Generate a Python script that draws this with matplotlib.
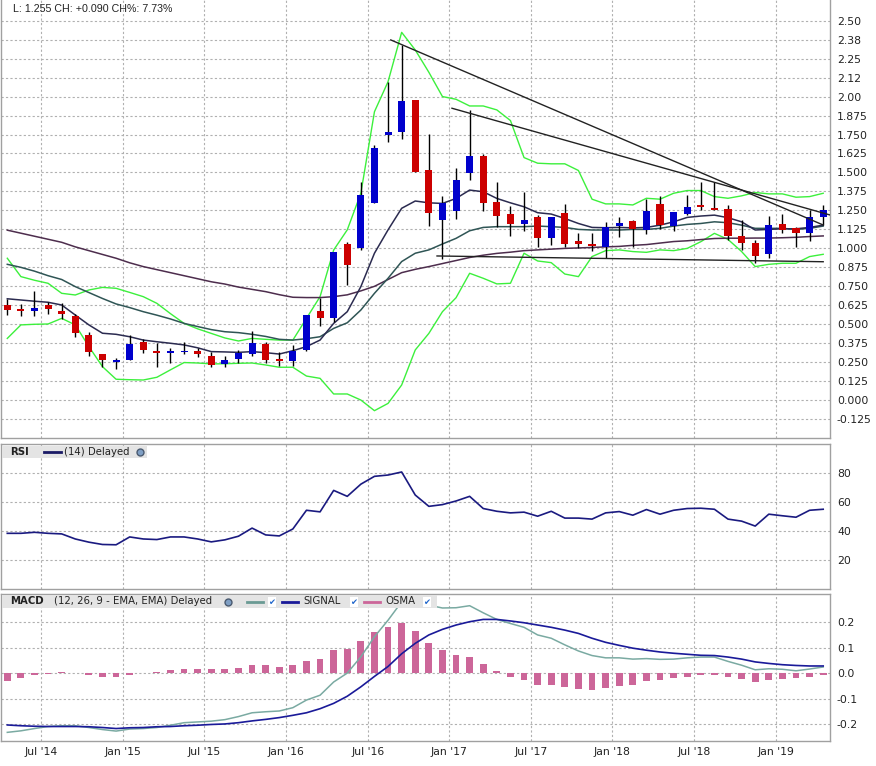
import matplotlib
matplotlib.use("Agg")
import matplotlib.pyplot as plt
from matplotlib.patches import Rectangle
from matplotlib.lines import Line2D

W, H = 876, 766

# monthly candles, Apr 2014 .. Apr 2019
opens = [0.625, 0.603, 0.590, 0.625, 0.586, 0.557, 0.432, 0.307, 0.250, 0.263,
         0.386, 0.327, 0.309, 0.316, 0.327, 0.294, 0.239, 0.274, 0.307, 0.373,
         0.274, 0.256, 0.331, 0.588, 0.544, 1.028, 1.000, 1.300, 1.745, 1.768,
         1.976, 1.515, 1.186, 1.248, 1.498, 1.607, 1.305, 1.226, 1.162, 1.206,
         1.070, 1.232, 1.048, 1.029, 1.011, 1.147, 1.180, 1.123, 1.292, 1.147,
         1.224, 1.287, 1.265, 1.259, 1.081, 1.037, 0.961, 1.162, 1.132, 1.103,
         1.206]
highs = [0.669, 0.636, 0.721, 0.645, 0.643, 0.568, 0.452, 0.307, 0.281, 0.432,
         0.401, 0.375, 0.346, 0.386, 0.342, 0.316, 0.292, 0.331, 0.456, 0.386,
         0.320, 0.364, 0.563, 0.675, 0.976, 1.042, 1.436, 1.678, 2.094, 2.342,
         1.976, 1.752, 1.344, 1.528, 1.910, 1.620, 1.436, 1.279, 1.373, 1.219,
         1.206, 1.292, 1.103, 1.103, 1.173, 1.208, 1.186, 1.325, 1.346, 1.239,
         1.353, 1.439, 1.434, 1.287, 1.186, 1.055, 1.215, 1.228, 1.143, 1.250,
         1.287]
lows = [0.559, 0.553, 0.553, 0.570, 0.537, 0.414, 0.289, 0.217, 0.204, 0.263,
        0.309, 0.217, 0.243, 0.305, 0.283, 0.217, 0.221, 0.248, 0.294, 0.248,
        0.228, 0.228, 0.322, 0.491, 0.518, 0.759, 0.990, 1.300, 1.700, 1.720,
        1.502, 1.149, 0.932, 1.193, 1.450, 1.248, 1.143, 1.083, 1.116, 1.011,
        1.022, 1.011, 1.000, 0.985, 0.936, 1.077, 1.011, 1.096, 1.129, 1.114,
        1.217, 1.250, 1.250, 1.057, 0.989, 0.906, 0.936, 1.103, 1.009, 1.048,
        1.153]
closes = [0.596, 0.590, 0.610, 0.599, 0.566, 0.441, 0.316, 0.263, 0.263, 0.368,
          0.329, 0.309, 0.327, 0.327, 0.303, 0.235, 0.265, 0.314, 0.379, 0.268,
          0.256, 0.322, 0.563, 0.544, 0.976, 0.890, 1.350, 1.660, 1.765, 1.969,
          1.502, 1.235, 1.300, 1.450, 1.607, 1.300, 1.215, 1.162, 1.186, 1.070,
          1.206, 1.031, 1.031, 1.015, 1.140, 1.167, 1.130, 1.246, 1.151, 1.239,
          1.272, 1.272, 1.254, 1.083, 1.037, 0.952, 1.153, 1.121, 1.103, 1.206,
          1.252]

bb_upper = [0.935, 0.814, 0.790, 0.770, 0.704, 0.693, 0.726, 0.743, 0.737, 0.710,
            0.682, 0.638, 0.570, 0.506, 0.470, 0.440, 0.410, 0.390, 0.407, 0.401,
            0.396, 0.396, 0.539, 0.682, 0.989, 1.122, 1.363, 1.900, 2.098, 2.423,
            2.307, 2.160, 2.000, 1.982, 1.938, 1.938, 1.912, 1.842, 1.598, 1.561,
            1.557, 1.557, 1.513, 1.324, 1.293, 1.293, 1.286, 1.330, 1.324, 1.363,
            1.381, 1.381, 1.341, 1.330, 1.346, 1.368, 1.359, 1.359, 1.337, 1.341,
            1.363]
bb_lower = [0.407, 0.496, 0.500, 0.502, 0.539, 0.496, 0.353, 0.221, 0.138, 0.135,
            0.133, 0.151, 0.200, 0.248, 0.245, 0.239, 0.240, 0.243, 0.245, 0.232,
            0.217, 0.217, 0.159, 0.144, 0.041, 0.041, 0.001, -0.069, -0.021, 0.100,
            0.331, 0.440, 0.583, 0.675, 0.836, 0.803, 0.766, 0.770, 0.968, 0.917,
            0.906, 0.831, 0.814, 0.946, 0.985, 0.990, 0.979, 0.974, 0.990, 0.985,
            1.000, 1.044, 1.099, 1.059, 0.979, 0.880, 0.895, 0.902, 0.902, 0.946,
            0.961]
bb_mid = [0.895, 0.875, 0.850, 0.820, 0.795, 0.748, 0.709, 0.670, 0.634, 0.610,
          0.583, 0.560, 0.535, 0.506, 0.485, 0.465, 0.451, 0.445, 0.434, 0.420,
          0.401, 0.396, 0.405, 0.418, 0.473, 0.510, 0.594, 0.704, 0.803, 0.913,
          0.968, 0.990, 1.029, 1.066, 1.116, 1.138, 1.143, 1.143, 1.143, 1.147,
          1.143, 1.138, 1.125, 1.121, 1.121, 1.121, 1.125, 1.125, 1.132, 1.147,
          1.158, 1.164, 1.175, 1.169, 1.153, 1.132, 1.132, 1.132, 1.125, 1.132,
          1.147]
ma_short = [0.668, 0.660, 0.652, 0.645, 0.627, 0.561, 0.496, 0.441, 0.434, 0.418,
            0.396, 0.385, 0.375, 0.364, 0.345, 0.320, 0.318, 0.315, 0.320, 0.313,
            0.304, 0.326, 0.353, 0.396, 0.506, 0.583, 0.748, 0.968, 1.122, 1.264,
            1.312, 1.300, 1.296, 1.329, 1.384, 1.373, 1.329, 1.300, 1.274, 1.235,
            1.226, 1.197, 1.164, 1.138, 1.136, 1.138, 1.135, 1.138, 1.153, 1.175,
            1.204, 1.213, 1.219, 1.202, 1.175, 1.121, 1.125, 1.129, 1.129, 1.138,
            1.153]
ma_long = [1.120, 1.100, 1.080, 1.060, 1.040, 1.010, 0.985, 0.960, 0.935, 0.905,
           0.880, 0.860, 0.840, 0.820, 0.800, 0.780, 0.765, 0.745, 0.730, 0.715,
           0.695, 0.678, 0.676, 0.676, 0.682, 0.694, 0.720, 0.750, 0.795, 0.840,
           0.862, 0.880, 0.900, 0.920, 0.940, 0.955, 0.967, 0.975, 0.985, 0.990,
           0.995, 1.000, 1.003, 1.006, 1.010, 1.013, 1.020, 1.025, 1.035, 1.045,
           1.050, 1.058, 1.065, 1.067, 1.067, 1.068, 1.068, 1.070, 1.073, 1.078,
           1.082]

# hand drawn trend lines (start/end in candle index and price)
trend_x = [[28.2, 60.0], [32.7, 60.5], [31.6, 60.0]]
trend_y = [[2.373, 1.154], [1.923, 1.220], [0.950, 0.912]]

rsi = [38.4, 38.4, 39.1, 38.4, 38.0, 34.5, 32.3, 30.7, 30.5, 35.9,
       34.5, 34.1, 35.9, 35.9, 34.5, 32.5, 33.9, 36.4, 42.0, 37.3,
       36.6, 41.4, 54.3, 53.2, 68.0, 63.9, 72.3, 77.7, 78.6, 80.7,
       64.8, 57.0, 58.2, 60.7, 63.9, 55.5, 53.6, 52.5, 53.0, 50.2,
       53.6, 48.9, 48.9, 48.2, 52.5, 53.4, 50.9, 54.8, 51.6, 54.3,
       55.5, 55.7, 55.0, 48.2, 46.8, 43.4, 51.6, 50.5, 49.5, 54.3,
       55.0]

macd = [-0.232, -0.226, -0.217, -0.209, -0.206, -0.206, -0.213, -0.221, -0.227, -0.219,
        -0.217, -0.213, -0.204, -0.194, -0.191, -0.188, -0.182, -0.170, -0.155, -0.151,
        -0.148, -0.135, -0.105, -0.086, -0.034, 0.001, 0.065, 0.144, 0.209, 0.281,
        0.277, 0.268, 0.257, 0.258, 0.266, 0.238, 0.212, 0.196, 0.181, 0.151,
        0.138, 0.112, 0.088, 0.070, 0.061, 0.061, 0.056, 0.058, 0.055, 0.056,
        0.061, 0.064, 0.064, 0.047, 0.032, 0.014, 0.018, 0.016, 0.010, 0.017,
        0.025]
signal = [-0.203, -0.206, -0.208, -0.209, -0.209, -0.209, -0.210, -0.213, -0.217, -0.214,
          -0.213, -0.210, -0.209, -0.206, -0.204, -0.201, -0.199, -0.194, -0.187, -0.181,
          -0.174, -0.165, -0.155, -0.139, -0.118, -0.090, -0.053, -0.012, 0.027, 0.077,
          0.118, 0.151, 0.173, 0.190, 0.203, 0.212, 0.212, 0.206, 0.199, 0.190,
          0.181, 0.170, 0.157, 0.138, 0.122, 0.110, 0.099, 0.091, 0.084, 0.079,
          0.075, 0.071, 0.070, 0.064, 0.056, 0.045, 0.039, 0.034, 0.031, 0.029,
          0.029]
osma = [-0.031, -0.019, -0.008, -0.002, 0.006, 0.003, -0.005, -0.013, -0.013, -0.005,
        0.003, 0.006, 0.012, 0.016, 0.019, 0.016, 0.019, 0.023, 0.031, 0.031,
        0.026, 0.031, 0.047, 0.058, 0.090, 0.096, 0.127, 0.161, 0.182, 0.199,
        0.166, 0.119, 0.090, 0.073, 0.065, 0.038, 0.010, -0.013, -0.027, -0.044,
        -0.044, -0.055, -0.060, -0.064, -0.056, -0.048, -0.045, -0.031, -0.027, -0.019,
        -0.013, -0.008, -0.005, -0.016, -0.023, -0.035, -0.027, -0.023, -0.019, -0.013,
        -0.005]

month_ticks = [2.5, 8.5, 14.5, 20.5, 26.5, 32.5, 38.5, 44.5, 50.5, 56.5]
month_labels = ["Jul '14", "Jan '15", "Jul '15", "Jan '16", "Jul '16",
                "Jan '17", "Jul '17", "Jan '18", "Jul '18", "Jan '19"]
price_ticks = [i * 0.125 for i in range(-1, 21)]
price_labels = ["-0.125", "0.000", "0.125", "0.250", "0.375", "0.500", "0.625",
                "0.750", "0.875", "1.000", "1.125", "1.250", "1.375", "1.500",
                "1.625", "1.750", "1.875", "2.00", "2.12", "2.25", "2.38", "2.50"]
rsi_ticks = [20, 40, 60, 80]
macd_ticks = [-0.2, -0.1, 0.0, 0.1, 0.2]
macd_labels = ["-0.2", "-0.1", "0.0", "0.1", "0.2"]

plt.rcParams["font.family"] = ["DejaVu Sans"]
fig = plt.figure(figsize=(W / 100, H / 100), dpi=100)


def box(top, bottom):
    # axes rectangle from pixel rows
    return [0.5 / W, 1 - bottom / H, 829.5 / W, (bottom - top) / H]


def P(x, y):
    return x / W, 1 - y / H


ax_p = fig.add_axes(box(0, 438))
ax_r = fig.add_axes(box(444, 589))
ax_m = fig.add_axes(box(594, 741))

for ax in (ax_p, ax_r, ax_m):
    ax.set_xlim(-0.5, 60.5)
    ax.yaxis.tick_right()
    ax.tick_params(length=0, pad=5, labelsize=7.8, labelcolor="#222222")
    ax.set_xticks(month_ticks)
    ax.grid(True, color="#b0b0b0", linestyle=(0, (2, 2)), linewidth=0.8)
    ax.set_axisbelow(True)
    for s in ax.spines.values():
        s.set_color("#a0a0a0")
        s.set_linewidth(1.0)
ax_p.spines["top"].set_visible(False)
ax_p.tick_params(labelbottom=False)
ax_r.tick_params(labelbottom=False)
ax_m.set_xticklabels(month_labels)
ax_m.tick_params(axis="x", pad=4)

# price panel
xs = list(range(len(opens)))
ax_p.set_ylim(-0.249, 2.636)
ax_p.set_yticks(price_ticks)
ax_p.set_yticklabels(price_labels)

ax_p.plot(xs, bb_upper, color="#3cf03c", lw=1.0, zorder=2)
ax_p.plot(xs, bb_lower, color="#3cf03c", lw=1.0, zorder=2)
ax_p.plot(xs, ma_long, color="#4d2d4d", lw=1.1, zorder=2)
ax_p.plot(xs, bb_mid, color="#2f5555", lw=1.1, zorder=2)
ax_p.plot(xs, ma_short, color="#2b2b50", lw=1.1, zorder=2)

for x, o, h, l, c in zip(xs, opens, highs, lows, closes):
    col = "#0000cc" if c >= o else "#cc0000"
    ax_p.vlines(x, l, h, color="black", lw=1.0, zorder=3)
    ax_p.bar(x, max(abs(c - o), 0.006), bottom=min(o, c), width=0.52,
             color=col, zorder=4)

for tx, ty in zip(trend_x, trend_y):
    ax_p.plot(tx, ty, color="#222222", lw=1.0, zorder=5)

ax_p.text(13 / 830, 1 - 9 / 438, "L: 1.255 CH: +0.090 CH%: 7.73%",
          transform=ax_p.transAxes, fontsize=7.7, color="#222222",
          family="Liberation Sans", va="center", ha="left")

# RSI panel
ax_r.set_ylim(0, 100)
ax_r.set_yticks(rsi_ticks)
ax_r.plot(xs, rsi, color="#1a1a80", lw=1.2, zorder=3)

# MACD panel
ax_m.set_ylim(-0.266, 0.312)
ax_m.set_yticks(macd_ticks)
ax_m.set_yticklabels(macd_labels)
ax_m.bar(xs, osma, width=0.5, color="#cc6699", zorder=2)
ax_m.plot(xs, macd, color="#7aaaa2", lw=1.1, zorder=3)
ax_m.plot(xs, signal, color="#1a1a99", lw=1.2, zorder=3)


# legend strips
def strip(x0, x1, y0, y1):
    fx0, fy1 = P(x0, y1)
    fx1, fy0 = P(x1, y0)
    fig.patches.append(Rectangle((fx0, fy1), fx1 - fx0, fy0 - fy1,
                                 transform=fig.transFigure, facecolor="#e4e4e4",
                                 edgecolor="none", zorder=5))


def seg(x0, x1, y, color):
    a, b = P(x0, y)
    c, d = P(x1, y)
    fig.add_artist(Line2D([a, c], [b, d], transform=fig.transFigure,
                          color=color, lw=2.0, zorder=6))


def label(x, y, s, bold=False):
    fig.text(*P(x, y), s, fontsize=7.3, va="center", ha="left", color="#222222",
             fontweight="bold" if bold else "normal", zorder=7)


def globe(x, y):
    fig.add_artist(Line2D([P(x, y)[0]], [P(x, y)[1]], marker="o", markersize=5,
                          markerfacecolor="#7f9fc4", markeredgecolor="#4a5a70",
                          transform=fig.transFigure, zorder=7))


def check(x, y):
    fx, fy = P(x, y)
    fig.text(fx, fy, "\u2714", fontsize=6, color="#1f66cc", ha="center",
             va="center", zorder=7,
             bbox=dict(boxstyle="square,pad=0.05", fc="white", ec="none"))


strip(2, 147, 446, 458)
label(10, 452, "RSI", bold=True)
seg(44, 61, 452, "#1a1a66")
label(64, 452, "(14) Delayed")
globe(140, 452)

strip(2, 437, 595, 608)
label(10, 601.5, "MACD", bold=True)
label(54, 601.5, "(12, 26, 9 - EMA, EMA) Delayed")
globe(228, 601.5)
seg(247, 263, 601.5, "#6a9a94")
check(272, 602)
seg(282, 298, 601.5, "#1a1a99")
label(303, 601.5, "SIGNAL")
check(354, 602)
seg(364, 380, 601.5, "#cc6699")
label(385, 601.5, "OSMA")
check(427, 602)

fig.savefig("out.png", dpi=100, facecolor="white")
